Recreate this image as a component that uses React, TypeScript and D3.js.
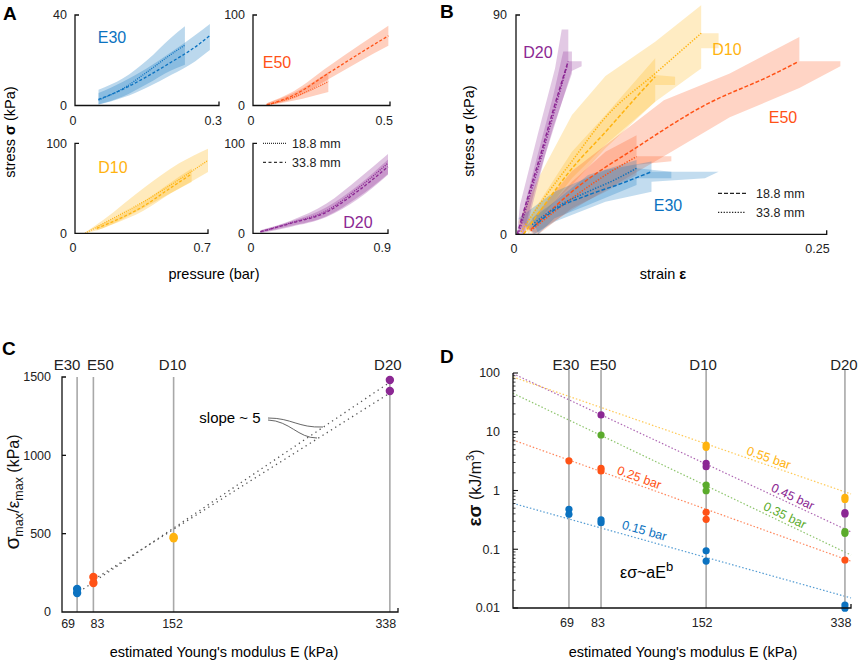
import React from 'react';
import * as d3 from 'd3';

const FONT = '"Liberation Sans", Arial, Helvetica, sans-serif';
const BLUE = '#0b72c0';
const RED = '#ff5216';
const YELLOW = '#ffb30f';
const PURPLE = '#8b2793';
const GREEN = '#5bab2c';
const AXIS = '#111';

// ---------- A: stress (kPa) vs pressure (bar), rows are [pressure, mean, lo, hi]
type Row = [number, number, number, number];
type Pt = [number, number];

const aE30Dotted: Row[] = [[0.049, 2.4, 0.5, 7], [0.1, 7.5, 4, 12], [0.15, 14.8, 9.5, 20], [0.2, 22.6, 15.5, 30], [0.229, 26.7, 18, 35]];
const aE30Dashed: Row[] = [[0.049, 2.7, 0.3, 5.5], [0.1, 7.2, 3.5, 10.5], [0.15, 12.8, 8, 16.5], [0.2, 19.1, 13.5, 23.5], [0.25, 25.8, 19.5, 31], [0.281, 30.9, 24.5, 36]];
const aE50Dotted: Row[] = [[0.05, 0.5, 0, 2.5], [0.15, 9.5, 5.5, 14], [0.275, 26.3, 15, 37]];
const aE50Dashed: Row[] = [[0.05, 0.5, 0, 2.5], [0.15, 11.6, 8, 16], [0.275, 35.6, 29, 43], [0.39, 57.7, 49, 67], [0.494, 77, 66, 88]];
const aD10Dotted: Row[] = [[0.053, 0, 0, 1], [0.15, 11, 6, 15], [0.36, 35, 28, 50], [0.55, 60, 50, 78], [0.7, 81, 68, 94]];
const aD10Dashed: Row[] = [[0.114, 5.5, 3, 8], [0.2, 13, 10, 16], [0.36, 30, 25, 35], [0.5, 50, 44, 56], [0.614, 66, 57, 72]];
const aD20Dotted: Row[] = [[0.05, 1.8, 0, 3.5], [0.25, 11.5, 7, 14], [0.49, 25, 18, 33], [0.7, 50, 38, 60], [0.9, 78, 65, 88]];
const aD20Dashed: Row[] = [[0.05, 1.8, 0.5, 3], [0.25, 11, 8, 13], [0.49, 23.5, 19, 29], [0.7, 47, 40, 53], [0.9, 74, 66, 82]];

// ---------- B: stress (kPa) vs strain, curves [strain, stress], bands are outlines
const bD20Dashed: Pt[] = [[0.001, 0], [0.01, 16], [0.02, 33], [0.03, 51], [0.042, 71]];
const bD20Dotted: Pt[] = [[0.002, 0], [0.01, 14], [0.02, 31], [0.03, 49], [0.041, 69]];
const bD20BandA: Pt[] = [[0.0008, 0], [0.0032, 12], [0.018, 42], [0.0314, 68], [0.0368, 84], [0.0421, 84], [0.0421, 71], [0.0528, 71], [0.0528, 69], [0.0448, 67], [0.0233, 32], [0.0072, 0]];
const bD20BandB: Pt[] = [[0.002, 2], [0.015, 28], [0.03, 57], [0.038, 75], [0.045, 75], [0.045, 66], [0.03, 44], [0.015, 18], [0.006, 0]];

const bD10Dotted: Pt[] = [[0.004, 1], [0.02, 13], [0.045, 30], [0.072, 48], [0.112, 66], [0.149, 82.5]];
const bD10Dashed: Pt[] = [[0.006, 0], [0.02, 10], [0.045, 27], [0.072, 42], [0.098, 57], [0.112, 64.7]];
const bD10BandA: Pt[] = [[0.002, 5], [0.018, 23], [0.045, 49], [0.072, 65], [0.112, 79], [0.149, 94], [0.149, 82.5], [0.163, 82.5], [0.163, 76.4], [0.149, 76.4], [0.149, 68], [0.112, 54.4], [0.072, 35.3], [0.045, 20.2], [0.018, 6.6], [0.007, 0]];
const bD10BandB: Pt[] = [[0.007, 3.9], [0.045, 33.9], [0.072, 49], [0.112, 72.2], [0.112, 65.4], [0.128, 64.7], [0.128, 61.3], [0.112, 61.3], [0.112, 54.4], [0.072, 36.7], [0.045, 23], [0.01, 0]];

const bE50Dashed: Pt[] = [[0.012, 2], [0.045, 17.5], [0.098, 36], [0.152, 53], [0.206, 65.4], [0.227, 70.8]];
const bE50Dotted: Pt[] = [[0.012, 1.5], [0.045, 14.8], [0.072, 24.3], [0.097, 31.9]];
const bE50BandA: Pt[] = [[0.008, 3], [0.045, 26], [0.119, 55], [0.172, 66], [0.228, 81], [0.228, 71], [0.261, 71], [0.261, 69], [0.228, 60], [0.172, 48], [0.119, 32], [0.045, 10], [0.014, 0]];
const bE50BandB: Pt[] = [[0.01, 2], [0.045, 21.6], [0.072, 33.9], [0.097, 40.7], [0.097, 32], [0.125, 32], [0.125, 30], [0.097, 28.5], [0.097, 24.3], [0.072, 17.5], [0.045, 10.7], [0.018, 0]];

const bE30Dashed: Pt[] = [[0.014, 3.1], [0.031, 10], [0.058, 16.1], [0.085, 20.9], [0.109, 25.7]];
const bE30Dotted: Pt[] = [[0.013, 4], [0.031, 10.7], [0.058, 17.5], [0.08, 22.5], [0.097, 27.1]];
const bE30BandA: Pt[] = [[0.002, 6.6], [0.031, 17.5], [0.072, 26.4], [0.109, 29.9], [0.109, 25.7], [0.163, 25.7], [0.152, 23], [0.109, 21.6], [0.109, 17.5], [0.072, 13.4], [0.031, 5.2], [0.015, 0]];
const bE30BandB: Pt[] = [[0.013, 6.6], [0.031, 13.4], [0.058, 24.3], [0.097, 30.5], [0.097, 27.1], [0.125, 25.7], [0.125, 23], [0.097, 23], [0.097, 20.2], [0.058, 12], [0.031, 6.6], [0.018, 0]];

// ---------- C / D shared
const materials = ['E30', 'E50', 'D10', 'D20'];
const moduli = [69, 83, 152, 338];
const matColors = [BLUE, RED, YELLOW, PURPLE];

// C: sigma_max / eps_max (kPa), two samples per material
const cRatioA = [147, 223, 479, 1481];
const cRatioB = [121, 185, 470, 1411];
const cFitUpper: Pt[] = [[74.3, 147], [336.7, 1460]];
const cFitLower: Pt[] = [[87.2, 225], [338.1, 1398]];

// D: energy density (kJ/m^3) vs modulus, [E, value]
const dPressures = ['0.15 bar', '0.25 bar', '0.35 bar', '0.45 bar', '0.55 bar'];
const dColors = [BLUE, RED, GREEN, PURPLE, YELLOW];
const d015: Pt[] = [[69, 0.48], [69, 0.394], [83, 0.315], [83, 0.283], [152, 0.094], [152, 0.063], [338, 0.0112], [338, 0.0099]];
const d025: Pt[] = [[69, 3.2], [83, 2.39], [83, 2.15], [152, 0.425], [152, 0.323], [338, 0.0656]];
const d035: Pt[] = [[83, 8.8], [152, 1.24], [152, 0.99], [338, 0.2], [338, 0.187]];
const d045: Pt[] = [[83, 19.3], [152, 2.9], [152, 2.54], [338, 0.42], [338, 0.398]];
const d055: Pt[] = [[152, 5.95], [152, 5.44], [338, 0.766], [338, 0.703]];
const dFitE = [50, 350];
const dFits = [[0.605, 0.0148], [7.24, 0.0626], [45.1, 0.0798], [97.7, 0.197], [85.5, 0.872]];
const dLabelE = [105, 102, 235, 246, 215];
const dSeries = [d015, d025, d035, d045, d055];

function PressurePlot(props: {
  box: [number, number, number, number]; xMax: number; yMax: number; color: string;
  dotted: Row[]; dashed: Row[]; label: string; labelPos: [number, number];
}) {
  const { box, xMax, yMax, color, dotted, dashed, label, labelPos } = props;
  const [l, r, t, b] = box;
  const x = d3.scaleLinear().domain([0, xMax]).range([l, r]);
  const y = d3.scaleLinear().domain([0, yMax]).range([b, t]);
  const area = d3.area<Row>().x(d => x(d[0])).y0(d => y(d[2])).y1(d => y(d[3])).curve(d3.curveMonotoneX);
  const line = d3.line<Row>().x(d => x(d[0])).y(d => y(d[1])).curve(d3.curveMonotoneX);
  return (
    <g>
      <path d={area(dotted) || ''} fill={color} fillOpacity={0.28} />
      <path d={area(dashed) || ''} fill={color} fillOpacity={0.28} />
      <path d={line(dotted) || ''} fill="none" stroke={color} strokeWidth={1.3} strokeDasharray="1,1.2" />
      <path d={line(dashed) || ''} fill="none" stroke={color} strokeWidth={1.3} strokeDasharray="3,2" />
      <path d={`M${x(0) + 4},${y(yMax)}H${x(0)}V${y(0)}H${x(xMax)}V${y(0) - 4}`} fill="none" stroke={AXIS} strokeWidth={1.3} />
      <g fontSize={12.5} fill="#222">
        <text x={x(0) - 8} y={y(yMax)} dy="0.35em" textAnchor="end">{yMax}</text>
        <text x={x(0) - 8} y={y(0)} dy="0.35em" textAnchor="end">0</text>
        <text x={x(0) - 2} y={y(0) + 19} textAnchor="middle">0</text>
        <text x={x(xMax) + 3} y={y(0) + 19} textAnchor="end">{xMax}</text>
      </g>
      <text x={labelPos[0]} y={labelPos[1]} dy="0.35em" textAnchor="middle" fontSize={16} fill={color}>{label}</text>
    </g>
  );
}

function PanelA() {
  return (
    <g>
      <text x={3} y={20} fontSize={19} fontWeight="bold">A</text>
      <PressurePlot box={[75, 219, 15, 105.5]} xMax={0.3} yMax={40} color={BLUE} dotted={aE30Dotted} dashed={aE30Dashed} label="E30" labelPos={[112, 37]} />
      <PressurePlot box={[253, 390, 15, 105.5]} xMax={0.5} yMax={100} color={RED} dotted={aE50Dotted} dashed={aE50Dashed} label="E50" labelPos={[277, 62]} />
      <PressurePlot box={[75, 208, 143.3, 233.3]} xMax={0.7} yMax={100} color={YELLOW} dotted={aD10Dotted} dashed={aD10Dashed} label="D10" labelPos={[113, 167]} />
      <PressurePlot box={[253, 388, 143.3, 233.3]} xMax={0.9} yMax={100} color={PURPLE} dotted={aD20Dotted} dashed={aD20Dashed} label="D20" labelPos={[358, 222]} />
      <g fontSize={12.5} fill="#222">
        <line x1={263} x2={286} y1={143.3} y2={143.3} stroke="#333" strokeWidth={1.2} strokeDasharray="1,1" />
        <text x={292} y={143.3} dy="0.35em">18.8 mm</text>
        <line x1={263} x2={286} y1={162.3} y2={162.3} stroke="#333" strokeWidth={1.2} strokeDasharray="3,2.5" />
        <text x={292} y={162.3} dy="0.35em">33.8 mm</text>
      </g>
      <text x={214} y={279} textAnchor="middle" fontSize={14.5}>pressure (bar)</text>
      <text transform="translate(15,132) rotate(-90)" textAnchor="middle" fontSize={14.5}>
        stress <tspan fontWeight="bold">σ</tspan> (kPa)
      </text>
    </g>
  );
}

function PanelB() {
  const x = d3.scaleLinear().domain([0, 0.25]).range([516, 826.7]);
  const y = d3.scaleLinear().domain([0, 90]).range([234.3, 15]);
  const line = d3.line<Pt>().x(d => x(d[0])).y(d => y(d[1]));
  const curve = d3.line<Pt>().x(d => x(d[0])).y(d => y(d[1])).curve(d3.curveMonotoneX);
  const band = (pts: Pt[]) => (line(pts) || '') + 'Z';
  const groups = [
    { c: YELLOW, bands: [bD10BandA, bD10BandB], dashed: bD10Dashed, dotted: bD10Dotted },
    { c: RED, bands: [bE50BandA, bE50BandB], dashed: bE50Dashed, dotted: bE50Dotted },
    { c: BLUE, bands: [bE30BandA, bE30BandB], dashed: bE30Dashed, dotted: bE30Dotted },
    { c: PURPLE, bands: [bD20BandA, bD20BandB], dashed: bD20Dashed, dotted: bD20Dotted },
  ];
  return (
    <g>
      <text x={440} y={18} fontSize={19} fontWeight="bold">B</text>
      {groups.map((g, i) => (
        <g key={'b' + i}>
          {g.bands.map((bd, j) => <path key={j} d={band(bd)} fill={g.c} fillOpacity={0.25} />)}
        </g>
      ))}
      {groups.map((g, i) => (
        <g key={'l' + i} fill="none" stroke={g.c} strokeWidth={1.5}>
          <path d={curve(g.dashed) || ''} strokeDasharray="4,2" />
          <path d={curve(g.dotted) || ''} strokeDasharray="1.3,1.5" />
        </g>
      ))}
      <path d={`M${x(0) + 4},${y(90)}H${x(0)}V${y(0)}H${x(0.25)}V${y(0) - 4}`} fill="none" stroke={AXIS} strokeWidth={1.3} />
      <g fontSize={12.5} fill="#222">
        <text x={x(0) - 9} y={y(90)} dy="0.35em" textAnchor="end">90</text>
        <text x={x(0) - 9} y={y(0)} dy="0.35em" textAnchor="end">0</text>
        <text x={x(0) - 2} y={y(0) + 19} textAnchor="middle">0</text>
        <text x={x(0.25) + 3} y={y(0) + 19} textAnchor="end">0.25</text>
      </g>
      <g fontSize={16}>
        <text x={538} y={52} dy="0.35em" textAnchor="middle" fill={PURPLE}>D20</text>
        <text x={727} y={49} dy="0.35em" textAnchor="middle" fill={YELLOW}>D10</text>
        <text x={783} y={117} dy="0.35em" textAnchor="middle" fill={RED}>E50</text>
        <text x={668} y={205} dy="0.35em" textAnchor="middle" fill={BLUE}>E30</text>
      </g>
      <g fontSize={12.5} fill="#222">
        <line x1={718} x2={746} y1={193.3} y2={193.3} stroke="#222" strokeWidth={1.3} strokeDasharray="4,2" />
        <text x={756} y={193.3} dy="0.35em">18.8 mm</text>
        <line x1={718} x2={746} y1={212.3} y2={212.3} stroke="#222" strokeWidth={1.3} strokeDasharray="1.3,1.5" />
        <text x={756} y={212.3} dy="0.35em">33.8 mm</text>
      </g>
      <text x={663} y={279} textAnchor="middle" fontSize={14.5}>strain <tspan fontWeight="bold">ε</tspan></text>
      <text transform="translate(474,131) rotate(-90)" textAnchor="middle" fontSize={14.5}>
        stress <tspan fontWeight="bold">σ</tspan> (kPa)
      </text>
    </g>
  );
}

function PanelC() {
  const x = d3.scaleLinear().domain([56, 345]).range([62, 398]);
  const y = d3.scaleLinear().domain([0, 1500]).range([612, 377]);
  const line = d3.line<Pt>().x(d => x(d[0])).y(d => y(d[1]));
  const headerShift = [-10, 7, -1, -2];
  const tickShift = [-9, 4, -1, -4];
  return (
    <g>
      <text x={2} y={355} fontSize={19} fontWeight="bold">C</text>
      {moduli.map(m => (
        <line key={m} x1={x(m)} x2={x(m)} y1={377} y2={y(0)} stroke="#a8a8a8" strokeWidth={1.6} />
      ))}
      <path d={line(cFitUpper) || ''} fill="none" stroke="#555" strokeWidth={1.3} strokeDasharray="1.3,3.7" />
      <path d={line(cFitLower) || ''} fill="none" stroke="#555" strokeWidth={1.3} strokeDasharray="1.3,3.7" />
      {moduli.map((m, i) => (
        <g key={'p' + m} fill={matColors[i]}>
          <circle cx={x(m)} cy={y(cRatioA[i])} r={4.2} />
          <circle cx={x(m)} cy={y(cRatioB[i])} r={4.2} />
        </g>
      ))}
      <path d={`M${x(56) + 4},${y(1500)}H${x(56)}V${y(0)}H${x(345)}V${y(0) - 4}`} fill="none" stroke={AXIS} strokeWidth={1.3} />
      {[500, 1000].map(v => (
        <line key={v} x1={x(56)} x2={x(56) + 4} y1={y(v)} y2={y(v)} stroke={AXIS} strokeWidth={1.3} />
      ))}
      <g fontSize={12.5} fill="#222">
        {[0, 500, 1000, 1500].map(v => (
          <text key={v} x={x(56) - 11} y={y(v)} dy="0.35em" textAnchor="end">{v}</text>
        ))}
        {moduli.map((m, i) => (
          <text key={m} x={x(m) + tickShift[i]} y={628} textAnchor="middle">{m}</text>
        ))}
      </g>
      <g fontSize={15} fill="#222">
        {materials.map((s, i) => (
          <text key={s} x={x(moduli[i]) + headerShift[i]} y={370} textAnchor="middle">{s}</text>
        ))}
      </g>
      <text x={230} y={418} dy="0.35em" textAnchor="middle" fontSize={15}>slope ~ 5</text>
      <path d="M268,418 C292,418 298,428 323,427" fill="none" stroke="#555" strokeWidth={0.9} />
      <path d="M268,420 C290,421 298,438 317,438" fill="none" stroke="#555" strokeWidth={0.9} />
      <text x={224} y={657} textAnchor="middle" fontSize={14.5}>estimated Young's modulus E (kPa)</text>
      <text transform="translate(19,492) rotate(-90)" textAnchor="middle" fill="#111">
        <tspan fontSize={21}>σ</tspan><tspan fontSize={12.5} dy={4}>max</tspan>
        <tspan fontSize={17} dy={-4}>/ε</tspan><tspan fontSize={12.5} dy={4}>max</tspan>
        <tspan fontSize={16} dy={-4}> (kPa)</tspan>
      </text>
    </g>
  );
}

function PanelD() {
  const x = d3.scaleLog().domain([50, 350]).range([513, 851]);
  const y = d3.scaleLog().domain([0.01, 100]).range([608, 373]);
  const headerShift = [-3, 2, -3, -1];
  const tickShift = [-2, -3, -4, -4];
  const majors = [0.01, 0.1, 1, 10, 100];
  const minors: number[] = [];
  [0.01, 0.1, 1, 10].forEach(d => { for (let k = 2; k <= 9; k++) minors.push(d * k); });
  const lx = d3.scaleLog().domain(dFitE).range([0, 1]);
  return (
    <g>
      <text x={440} y={363} fontSize={19} fontWeight="bold">D</text>
      {dFits.map((f, i) => (
        <line key={'f' + i} x1={x(dFitE[0])} y1={y(f[0])} x2={x(dFitE[1])} y2={y(f[1])}
          stroke={dColors[i]} strokeOpacity={0.7} strokeWidth={1.2} strokeDasharray="1.5,2" />
      ))}
      {moduli.map(m => (
        <line key={m} x1={x(m)} x2={x(m)} y1={370} y2={y(0.01)} stroke="#a8a8a8" strokeWidth={1.6} />
      ))}
      {dSeries.map((s, i) => (
        <g key={'s' + i} fill={dColors[i]}>
          {s.map((p, j) => <circle key={j} cx={x(p[0])} cy={y(Math.max(p[1], 0.0099))} r={3.6} />)}
        </g>
      ))}
      {dFits.map((f, i) => {
        const t = lx(dLabelE[i]);
        const v = Math.pow(10, Math.log10(f[0]) + t * (Math.log10(f[1]) - Math.log10(f[0])));
        const ang = Math.atan2(y(f[1]) - y(f[0]), x(dFitE[1]) - x(dFitE[0])) * 180 / Math.PI;
        const off = i === 0 ? -5 : -3;
        return (
          <text key={'t' + i} transform={`translate(${x(dLabelE[i])},${y(v)}) rotate(${ang})`} y={off}
            textAnchor="middle" fontSize={12.5} fill={dColors[i]}>{dPressures[i]}</text>
        );
      })}
      <path d={`M${x(50)},${y(100)}V${y(0.01)}H${x(350)}V${y(0.01) - 4}`} fill="none" stroke={AXIS} strokeWidth={1.3} />
      {majors.map(v => (
        <line key={'M' + v} x1={x(50)} x2={x(50) + 5} y1={y(v)} y2={y(v)} stroke={AXIS} strokeWidth={1.1} />
      ))}
      {minors.map(v => (
        <line key={'m' + v} x1={x(50)} x2={x(50) + 2.5} y1={y(v)} y2={y(v)} stroke={AXIS} strokeWidth={0.8} />
      ))}
      <g fontSize={12.5} fill="#222">
        {majors.map(v => (
          <text key={v} x={500} y={y(v)} dy="0.35em" textAnchor="end">{String(v)}</text>
        ))}
        {moduli.map((m, i) => (
          <text key={m} x={x(m) + tickShift[i]} y={627} textAnchor="middle">{m}</text>
        ))}
      </g>
      <g fontSize={15} fill="#222">
        {materials.map((s, i) => (
          <text key={s} x={x(moduli[i]) + headerShift[i]} y={370} textAnchor="middle">{s}</text>
        ))}
      </g>
      <text x={620} y={578} fontSize={16}>εσ~aE<tspan fontSize={13} dy={-7}>b</tspan></text>
      <text x={683} y={657} textAnchor="middle" fontSize={14.5}>estimated Young's modulus E (kPa)</text>
      <text transform="translate(481,488) rotate(-90)" textAnchor="middle" fill="#111">
        <tspan fontSize={19} fontWeight="bold">εσ</tspan>
        <tspan fontSize={16}> (kJ/m</tspan><tspan fontSize={11} dy={-7}>3</tspan><tspan fontSize={16} dy={7}>)</tspan>
      </text>
    </g>
  );
}

export default function App() {
  return (
    <svg width={858} height={661} viewBox="0 0 858 661" fontFamily={FONT}
      style={{ position: 'absolute', left: 0, top: 0, background: '#fff' }}>
      <rect width={858} height={661} fill="#fff" />
      <PanelA />
      <PanelB />
      <PanelC />
      <PanelD />
    </svg>
  );
}
